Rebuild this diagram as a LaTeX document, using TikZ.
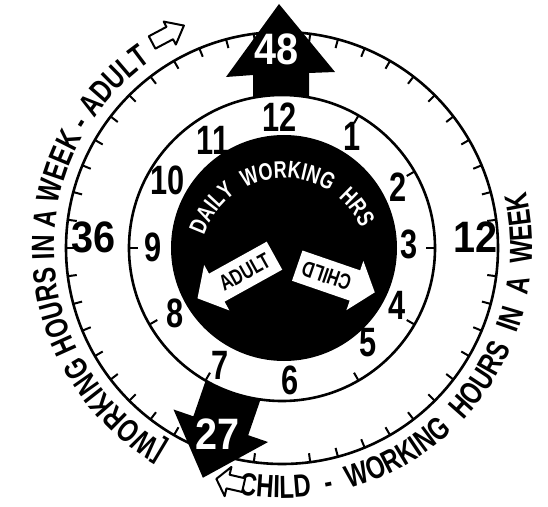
\documentclass[tikz,border=0pt]{standalone}
\usepackage{fontspec}
\setmainfont{Liberation Sans}
\newfontfamily\handfont[FakeStretch=0.75]{Liberation Sans}
\newfontfamily\numfont[FakeStretch=0.9]{Liberation Sans}
\usetikzlibrary{decorations.text}

\begin{document}
\begin{tikzpicture}[
		x=1pt, y=1pt,
		ring/.style={
			line width=2.6pt
		},
		tickmark/.style={
			line width=2pt
		},
		daynum/.style={
			inner sep=0pt,
			font=\handfont\bfseries\fontsize{41}{41}\selectfont
		},
		weeknum/.style={
			inner sep=0pt,
			font=\numfont\bfseries\fontsize{44}{44}\selectfont
		},
		innerlabel/.style={
			inner sep=0pt,
			transform shape,
			font=\handfont\bfseries\fontsize{22}{22}\selectfont
		},
		hollowarrow/.style={
			draw=black,
			fill=white,
			line width=2pt,
			line join=round
		}
		]
		
		\useasboundingbox (-282,-258) rectangle (266,248);
		
		\draw[ring] (0,0) circle[radius=216];
		\foreach \a in {7.5,15,...,82.5,97.5,105,...,262.5,277.5,285,...,352.5}
			\draw[tickmark] (\a:216) -- (\a:207);
		
		\fill (-29,140) -- (-29,173) -- (-56,171) -- (-3,244) -- (53,176) -- (27,175) -- (27,140) -- cycle;
		\node[weeknum, text=white] (n48) at (-5,199) {48};
		
		\begin{scope}[rotate=-109]
			\fill (140,-29) -- (188,-29) -- (188,-50) -- (243,0) -- (188,50) -- (188,29) -- (140,29) -- cycle;
		\end{scope}
		\node[weeknum, text=white] (n27) at (-64,-186) {27};
		
		\draw[ring, fill=white] (0,0) circle[radius=153];
		\foreach \a in {60,30,0,-30,-60,-120,-150,180}
			\draw[tickmark] (\a:153) -- (\a:144);
		
		\fill (2,0) circle[radius=113];
		
		\node[daynum] (d12) at (-2,131) {12};
		\node[daynum] (d1) at (70,112) {1};
		\node[daynum] (d2) at (116,61) {2};
		\node[daynum] (d3) at (127,4) {3};
		\node[daynum] (d4) at (115,-57) {4};
		\node[daynum] (d5) at (86,-95) {5};
		\node[daynum] (d6) at (8,-132) {6};
		\node[daynum] (d7) at (-62,-117) {7};
		\node[daynum] (d8) at (-107,-65) {8};
		\node[daynum] (d9) at (-129,1) {9};
		\node[daynum] (d10) at (-114,68) {10};
		\node[daynum] (d11) at (-69,108) {11};
		
		\node[weeknum] (w36) at (-188,11) {36};
		\node[weeknum] (w12) at (194,11) {12};
		
		\path[decorate, decoration={text along path, text color=white, text align={fit to path stretching spaces},
			text={|\handfont\bfseries\fontsize{24}{24}\selectfont|DAILY WORKING HRS}}]
			([shift={(2,-14)}]162:84) arc[start angle=162, end angle=24, radius=84];
		
		\begin{scope}[shift={(-46,-29)}, rotate=29]
			\fill[white] (44,16) -- (-22,16) -- (-22,26) -- (-44,0) -- (-22,-26) -- (-22,-16) -- (44,-16) -- cycle;
			\node[innerlabel] (adultin) at (10,0) {ADULT};
		\end{scope}
		
		\begin{scope}[shift={(54,-31)}, rotate=161]
			\fill[white] (41,16) -- (-20,16) -- (-20,26) -- (-41,0) -- (-20,-26) -- (-20,-16) -- (41,-16) -- cycle;
			\node[innerlabel] (childin) at (10,0) {CHILD};
		\end{scope}
		
		\path[decorate, decoration={text along path, text align={fit to path stretching spaces},
			text={|\handfont\bfseries\fontsize{32}{32}\selectfont|{[}WORKING HOURS IN A WEEK - ADULT}}]
			(240:228) arc[start angle=240, end angle=125, radius=228];
		
		\path[decorate, decoration={text along path, text align={fit to path stretching spaces},
			text={|\handfont\bfseries\fontsize{32}{32}\selectfont|CHILD - WORKING HOURS IN A WEEK}}]
			(260:250) arc[start angle=260, end angle=373, radius=250];
		
		\begin{scope}[shift={(-114,214)}, rotate=28]
			\draw[hollowarrow] (-18,-7) -- (2,-7) -- (2,-13) -- (18,0) -- (2,13) -- (2,7) -- (-18,7) -- cycle;
		\end{scope}
		
		\begin{scope}[shift={(-52,-234)}, rotate=167]
			\draw[hollowarrow] (-14,-7) -- (2,-7) -- (2,-15) -- (14,0) -- (2,15) -- (2,7) -- (-14,7) -- cycle;
		\end{scope}
		
	\end{tikzpicture}
\end{document}
